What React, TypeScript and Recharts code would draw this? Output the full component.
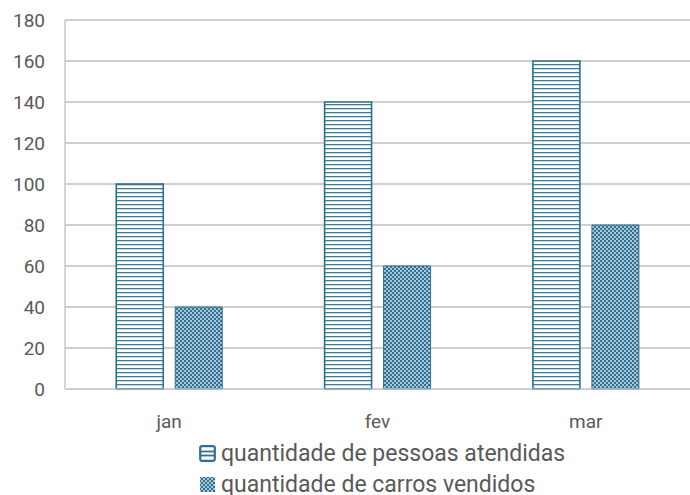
import React from "react";
import { BarChart, Bar, XAxis, YAxis, CartesianGrid } from "recharts";

const months = ["jan", "fev", "mar"];
const pessoasAtendidas = [100, 140, 160];
const carrosVendidos = [40, 60, 80];
const yTicks = [0, 20, 40, 60, 80, 100, 120, 140, 160, 180];

const seriesNames = {
  pessoas: "quantidade de pessoas atendidas",
  carros: "quantidade de carros vendidos",
};

const data = months.map((m, i) => ({
  month: m,
  pessoas: pessoasAtendidas[i],
  carros: carrosVendidos[i],
}));

const TEAL = "#2F6F8F";
const TEXT = "#595959";
const FONT = "Roboto, 'Open Sans', sans-serif";

function StripeIcon() {
  return (
    <svg width={17} height={17} style={{ marginRight: 5, flexShrink: 0 }}>
      <rect x={1.2} y={1.2} width={14.6} height={14.6} rx={2} fill="#fff" stroke={TEAL} strokeWidth={2.2} />
      <line x1={2} x2={15} y1={6.5} y2={6.5} stroke={TEAL} strokeWidth={1.8} />
      <line x1={2} x2={15} y1={10.5} y2={10.5} stroke={TEAL} strokeWidth={1.8} />
    </svg>
  );
}

function CheckIcon() {
  return (
    <svg width={17} height={17} style={{ marginRight: 5, flexShrink: 0 }}>
      <rect x={1} y={1} width={15} height={15} fill="url(#checks)" />
    </svg>
  );
}

export default function App() {
  return (
    <div style={{ position: "absolute", left: 0, top: 0, width: 690, height: 495, background: "#fff", fontFamily: FONT }}>
      <BarChart
        width={690}
        height={495}
        data={data}
        margin={{ top: 20, right: 0, left: 0, bottom: 66 }}
        barCategoryGap="24.6%"
        barGap={12}
      >
        <defs>
          <pattern id="stripes" width={6} height={4} patternUnits="userSpaceOnUse">
            <rect width={6} height={4} fill="#ffffff" />
            <rect y={0} width={6} height={1.3} fill="#3D7EA0" />
          </pattern>
          <pattern id="checks" width={4} height={4} patternUnits="userSpaceOnUse">
            <rect width={4} height={4} fill="#A6C8DA" />
            <rect x={0} y={0} width={2} height={2} fill="#33708F" />
            <rect x={2} y={2} width={2} height={2} fill="#33708F" />
          </pattern>
        </defs>
        <CartesianGrid vertical={false} stroke="#BFBFBF" strokeWidth={1.3} />
        <XAxis
          dataKey="month"
          height={40}
          tickLine={false}
          axisLine={{ stroke: "#D0D0D0" }}
          tickMargin={20}
          tick={{ fill: TEXT, fontSize: 19, fontFamily: FONT }}
        />
        <YAxis
          width={65}
          domain={[0, 180]}
          ticks={yTicks}
          interval={0}
          tickLine={false}
          axisLine={{ stroke: "#BFBFBF", strokeWidth: 1.3 }}
          tickMargin={14}
          tick={{ fill: TEXT, fontSize: 19, fontFamily: FONT }}
        />
        <Bar
          dataKey="pessoas"
          name={seriesNames.pessoas}
          fill="url(#stripes)"
          stroke={TEAL}
          strokeWidth={1.6}
          isAnimationActive={false}
        />
        <Bar
          dataKey="carros"
          name={seriesNames.carros}
          fill="url(#checks)"
          stroke={TEAL}
          strokeWidth={1}
          isAnimationActive={false}
        />
      </BarChart>
      <div
        style={{
          position: "absolute",
          left: 199,
          top: 438,
          color: TEXT,
          fontSize: 23,
          lineHeight: "31px",
          whiteSpace: "nowrap",
        }}
      >
        <div style={{ display: "flex", alignItems: "center" }}>
          <StripeIcon />
          <span>{seriesNames.pessoas}</span>
        </div>
        <div style={{ display: "flex", alignItems: "center" }}>
          <CheckIcon />
          <span>{seriesNames.carros}</span>
        </div>
      </div>
    </div>
  );
}
